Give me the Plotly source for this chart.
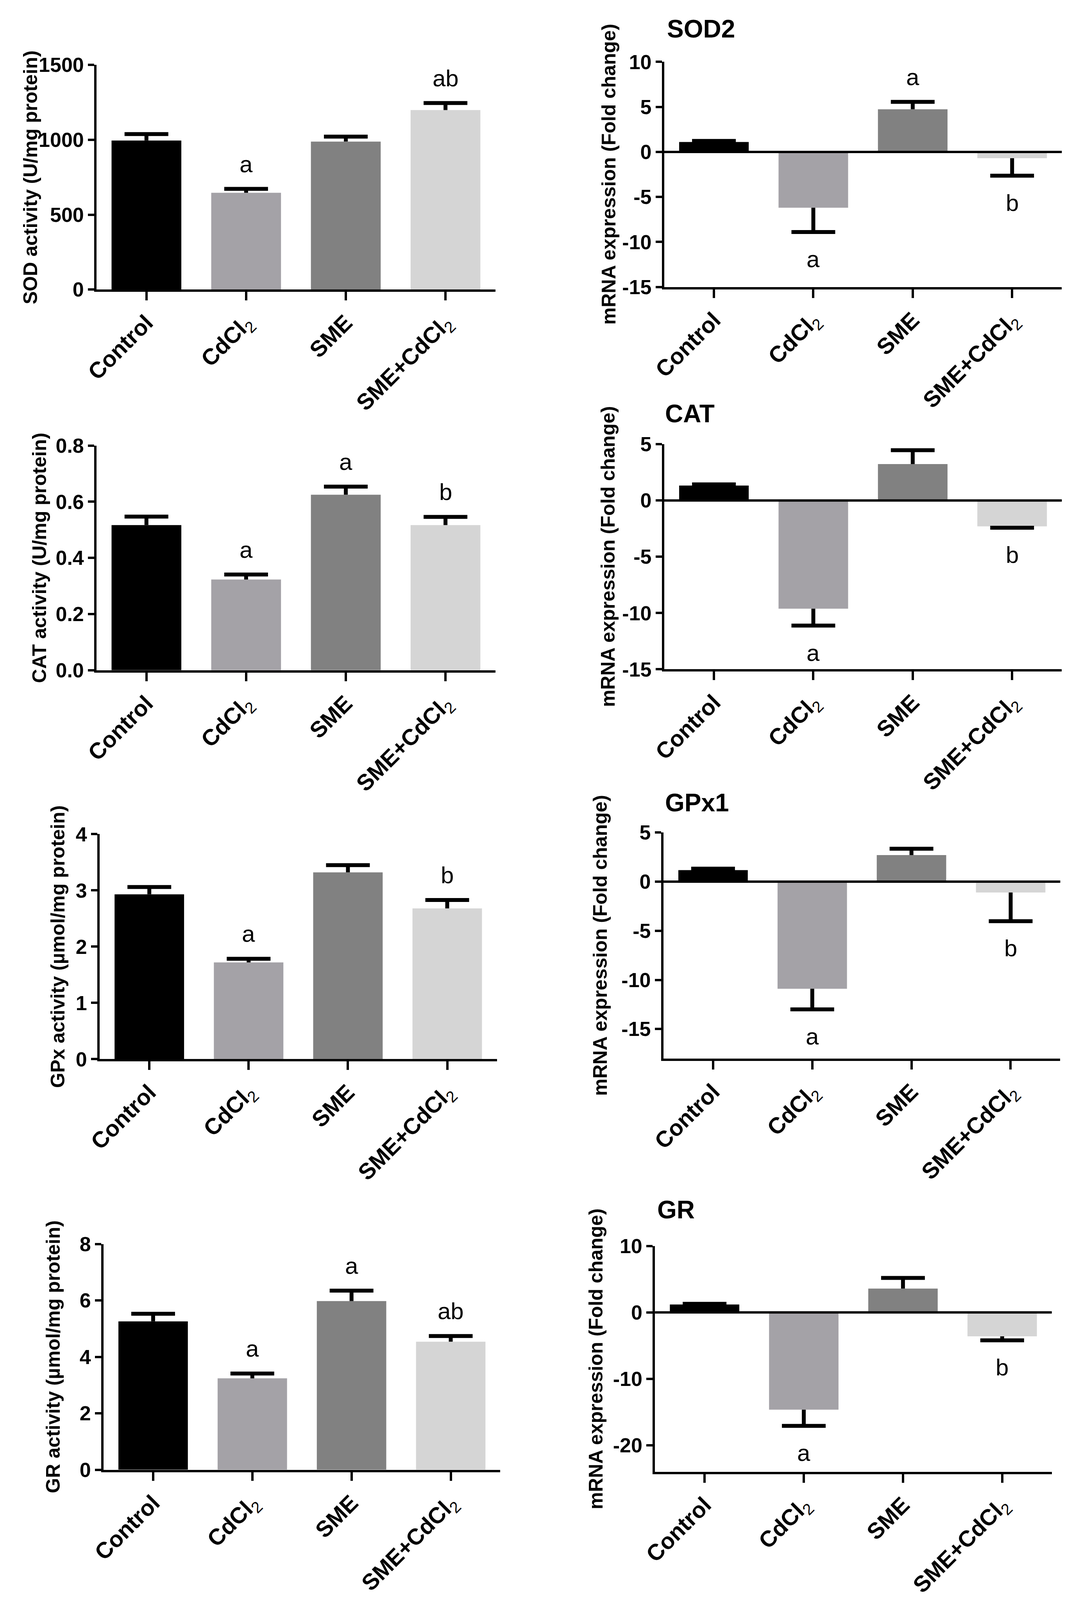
import plotly.graph_objects as go

FIG_W = 2746
FIG_H = 4720

# ---- data ----
groups = ["Control", "CdCl2", "SME", "SME+CdCl2"]
group_labels = ["<b>Control</b>", "<b>CdCl</b><sub>2</sub>", "<b>SME</b>",
                "<b>SME+CdCl</b><sub>2</sub>"]
group_colors = ["#000000", "#a4a2a7", "#818181", "#d5d5d5"]

# enzyme activity (left column)
sod_activity = [995, 646, 988, 1198]
sod_activity_err = [43, 26, 33, 47]
sod_activity_letters = ["", "a", "", "ab"]

cat_activity = [0.517, 0.323, 0.625, 0.517]
cat_activity_err = [0.030, 0.018, 0.029, 0.029]
cat_activity_letters = ["", "a", "a", "b"]

gpx_activity = [2.93, 1.72, 3.32, 2.68]
gpx_activity_err = [0.13, 0.065, 0.13, 0.15]
gpx_activity_letters = ["", "a", "", "b"]

gr_activity = [5.26, 3.24, 5.98, 4.54]
gr_activity_err = [0.27, 0.17, 0.37, 0.20]
gr_activity_letters = ["", "a", "a", "ab"]

# mRNA fold change (right column)
sod2_mrna = [1.1, -6.2, 4.74, -0.7]
sod2_mrna_err = [0.12, 2.7, 0.82, 1.94]
sod2_mrna_letters = ["", "a", "a", "b"]

cat_mrna = [1.33, -9.62, 3.24, -2.3]
cat_mrna_err = [0.1, 1.5, 1.23, 0.12]
cat_mrna_letters = ["", "a", "", "b"]

gpx1_mrna = [1.17, -10.9, 2.7, -1.1]
gpx1_mrna_err = [0.15, 2.1, 0.65, 2.93]
gpx1_mrna_letters = ["", "a", "", "b"]

gr_mrna = [1.2, -14.65, 3.6, -3.6]
gr_mrna_err = [0.1, 2.45, 1.6, 0.6]
gr_mrna_letters = ["", "a", "", "b"]

# y tick values / labels
sod_ticks = [0, 500, 1000, 1500]
cat_ticks = [0.0, 0.2, 0.4, 0.6, 0.8]
cat_ticklabels = ["0.0", "0.2", "0.4", "0.6", "0.8"]
gpx_ticks = [0, 1, 2, 3, 4]
gr_ticks = [0, 2, 4, 6, 8]
sod2_ticks = [-15, -10, -5, 0, 5, 10]
cat_mrna_ticks = [-15, -10, -5, 0, 5]
gpx1_ticks = [-15, -10, -5, 0, 5]
gr_mrna_ticks = [-20, -10, 0, 10]

FONT = "Liberation Sans, Arial, sans-serif"

# panel boxes in pixels: left, right, top, bottom of the plotting area
PANEL_BOXES = {
    1: (214, 1248, 163, 847),
    2: (1686, 2717, 154, 839),
    3: (214, 1248, 1322, 2006),
    4: (1686, 2717, 1318, 2003),
    5: (222, 1252, 2505, 3190),
    6: (1684, 2713, 2500, 3188),
    7: (232, 1261, 3753, 4440),
    8: (1662, 2691, 3759, 4446),
}
# x position (px) of the rotated y-axis titles
YTITLE_X = {1: 42, 2: 1542, 3: 66, 4: 1540, 5: 114, 6: 1520, 7: 101, 8: 1509}
# gene title (left px, centre px)
GENE_TITLE_POS = {2: (1691, 53), 4: (1686, 1225), 6: (1686, 2409), 8: (1666, 3649)}


def fmt_tick(v):
    return "<b>%s</b>" % str(v)


def add_panel(fig, idx, values, errors, letters, ticks, ticklabels, yrange,
              ytitle, gene=None):
    """Add one bar panel with one-sided error bars and letter annotations."""
    xname = "x" if idx == 1 else "x%d" % idx
    yname = "y" if idx == 1 else "y%d" % idx
    left, right, top, bottom = PANEL_BOXES[idx]

    up = [e if v >= 0 else 0 for v, e in zip(values, errors)]
    down = [0 if v >= 0 else e for v, e in zip(values, errors)]
    caps = [v + e if v >= 0 else v - e for v, e in zip(values, errors)]

    fig.add_trace(go.Bar(
        x=groups, y=values, width=0.7,
        marker=dict(color=group_colors, line=dict(width=0)),
        error_y=dict(type="data", symmetric=False, array=up, arrayminus=down,
                     color="black", thickness=10, width=0),
        xaxis=xname, yaxis=yname, showlegend=False,
    ))
    # error-bar caps
    fig.add_trace(go.Scatter(
        x=groups, y=caps, mode="markers",
        marker=dict(symbol="line-ew", size=80, color="black",
                    line=dict(width=10, color="black")),
        xaxis=xname, yaxis=yname, showlegend=False, hoverinfo="skip",
    ))

    axis_common = dict(
        showline=True, linewidth=6, linecolor="black", showgrid=False,
        zeroline=False, ticks="outside", tickwidth=6, tickcolor="black",
        layer="above traces",
    )
    fig.layout["xaxis" if idx == 1 else "xaxis%d" % idx] = dict(
        axis_common,
        domain=[left / FIG_W, right / FIG_W], anchor=yname,
        range=[-0.5, 3.5], tickmode="array", tickvals=groups,
        ticktext=group_labels, tickangle=-45, ticklen=22,
        tickfont=dict(family=FONT, size=58, color="black"),
    )
    fig.layout["yaxis" if idx == 1 else "yaxis%d" % idx] = dict(
        axis_common,
        domain=[1 - bottom / FIG_H, 1 - top / FIG_H], anchor=xname,
        range=yrange, tickmode="array", tickvals=ticks,
        ticktext=[fmt_tick(t) for t in ticklabels], ticklen=16,
        tickfont=dict(family=FONT, size=52, color="black"),
    )

    if yrange[0] < 0:
        fig.add_shape(type="line", xref="%s domain" % xname, yref=yname,
                      x0=0, x1=1, y0=0, y1=0, layer="above",
                      line=dict(color="black", width=6))

    fig.add_annotation(
        text="<b>%s</b>" % ytitle, textangle=-90, xref="paper", yref="paper",
        x=YTITLE_X[idx] / FIG_W, y=1 - (top + bottom) / 2 / FIG_H,
        xanchor="center", yanchor="middle", showarrow=False,
        font=dict(family=FONT, size=50, color="black"),
    )

    for g, cap, v, letter in zip(groups, caps, values, letters):
        if not letter:
            continue
        fig.add_annotation(
            text=letter, x=g, y=cap, xref=xname, yref=yname, showarrow=False,
            yanchor="bottom" if v >= 0 else "top",
            yshift=28 if v >= 0 else -34,
            font=dict(family=FONT, size=60, color="black"),
        )

    if gene:
        gx, gy = GENE_TITLE_POS[idx]
        fig.add_annotation(
            text="<b>%s</b>" % gene, xref="paper", yref="paper",
            x=gx / FIG_W, y=1 - gy / FIG_H, xanchor="left", yanchor="middle",
            showarrow=False, font=dict(family=FONT, size=64, color="black"),
        )


fig = go.Figure()

mrna_title = "mRNA expression (Fold change)"
add_panel(fig, 1, sod_activity, sod_activity_err, sod_activity_letters,
          sod_ticks, sod_ticks, [0, 1500], "SOD activity (U/mg protein)")
add_panel(fig, 2, sod2_mrna, sod2_mrna_err, sod2_mrna_letters,
          sod2_ticks, sod2_ticks, [-15, 10], mrna_title, gene="SOD2")
add_panel(fig, 3, cat_activity, cat_activity_err, cat_activity_letters,
          cat_ticks, cat_ticklabels, [0, 0.8], "CAT activity (U/mg protein)")
add_panel(fig, 4, cat_mrna, cat_mrna_err, cat_mrna_letters,
          cat_mrna_ticks, cat_mrna_ticks, [-15, 5], mrna_title, gene="CAT")
add_panel(fig, 5, gpx_activity, gpx_activity_err, gpx_activity_letters,
          gpx_ticks, gpx_ticks, [0, 4], "GPx activity (µmol/mg protein)")
add_panel(fig, 6, gpx1_mrna, gpx1_mrna_err, gpx1_mrna_letters,
          gpx1_ticks, gpx1_ticks, [-18, 5], mrna_title, gene="GPx1")
add_panel(fig, 7, gr_activity, gr_activity_err, gr_activity_letters,
          gr_ticks, gr_ticks, [0, 8], "GR activity (µmol/mg protein)")
add_panel(fig, 8, gr_mrna, gr_mrna_err, gr_mrna_letters,
          gr_mrna_ticks, gr_mrna_ticks, [-24, 10], mrna_title, gene="GR")

# size follows the browser window so the whole figure is in view
fig.update_layout(
    autosize=True,
    margin=dict(l=0, r=0, t=0, b=0),
    paper_bgcolor="white", plot_bgcolor="white",
    barmode="overlay", showlegend=False,
    font=dict(family=FONT, color="black"),
)

fit_page = (
    "document.body.style.margin='0';"
    "document.body.style.overflow='hidden';"
    "Plotly.Plots.resize(document.getElementById('{plot_id}'));"
)
fig.write_html("out.html", default_width="100vw", default_height="100vh",
               config={"responsive": True, "displayModeBar": False},
               post_script=fit_page)
